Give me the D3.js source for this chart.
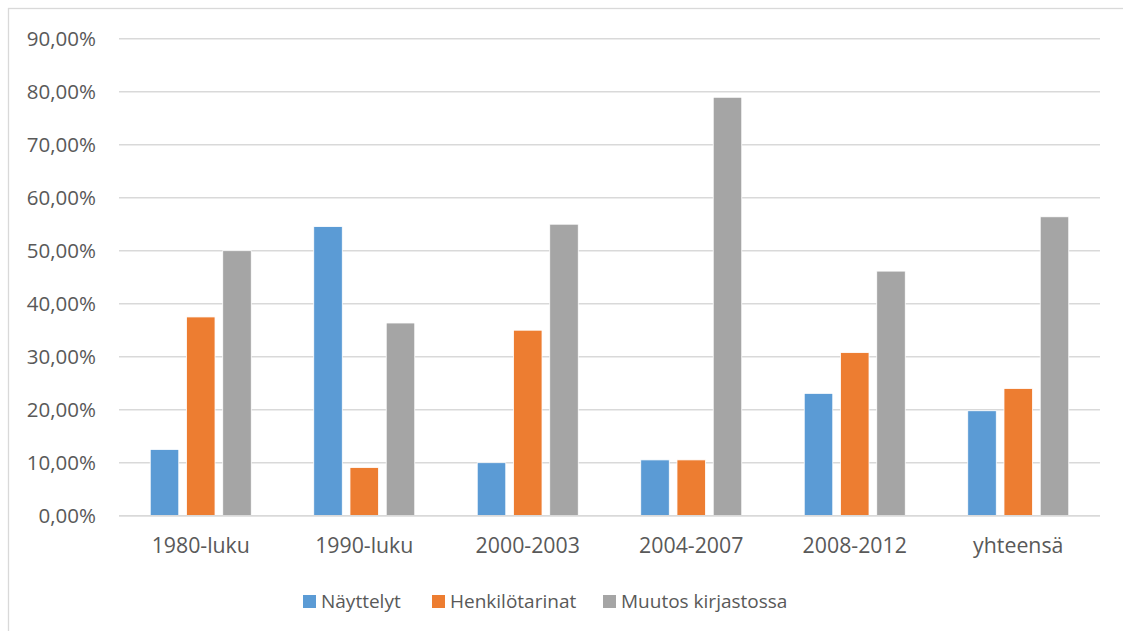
<!DOCTYPE html>
<html>
<head>
<meta charset="utf-8">
<script src="https://cdn.jsdelivr.net/npm/d3@7"></script>
<style>
  html, body { margin: 0; padding: 0; background: #fff; }
  svg { display: block; }
</style>
</head>
<body>
<svg id="chart" width="1123" height="631"></svg>
<script>
const categories = ["1980-luku", "1990-luku", "2000-2003", "2004-2007", "2008-2012", "yhteensä"];
const seriesNames = ["Näyttelyt", "Henkilötarinat", "Muutos kirjastossa"];
const nayttelyt = [12.5, 54.55, 10.0, 10.53, 23.08, 19.8];
const henkilotarinat = [37.5, 9.09, 35.0, 10.53, 30.77, 24.0];
const muutos = [50.0, 36.36, 55.0, 78.95, 46.15, 56.4];
const yTicks = [0, 10, 20, 30, 40, 50, 60, 70, 80, 90];
const colors = ["#5B9BD5", "#ED7D31", "#A5A5A5"];

const seriesValues = [nayttelyt, henkilotarinat, muutos];
const data = categories.map((c, i) => ({
  cat: c,
  vals: seriesNames.map((s, j) => ({ key: s, value: seriesValues[j][i] }))
}));

const svg = d3.select("#chart");
const font = "'Open Sans', 'Liberation Sans', sans-serif";
const textColor = "#595959";

// chart area border
svg.append("rect")
  .attr("x", 8.5).attr("y", 8.5)
  .attr("width", 1300).attr("height", 800)
  .attr("fill", "#fff")
  .attr("stroke", "#d9d9d9")
  .attr("stroke-width", 1.3);

const plotLeft = 119, plotRight = 1100, plotTop = 38.7, plotBottom = 515.7;

const x0 = d3.scaleBand().domain(categories).range([plotLeft, plotRight]);
const x1 = d3.scaleBand().domain(seriesNames)
  .range([0, x0.bandwidth()])
  .paddingInner(0.2126)
  .paddingOuter(0.862);
const y = d3.scaleLinear().domain([0, 90]).range([plotBottom, plotTop]);

// gridlines
svg.append("g")
  .selectAll("line")
  .data(yTicks)
  .join("line")
  .attr("x1", plotLeft).attr("x2", plotRight)
  .attr("y1", d => y(d)).attr("y2", d => y(d))
  .attr("stroke", "#d9d9d9")
  .attr("stroke-width", 1.4);

// y axis labels
const yAxis = svg.append("g")
  .attr("transform", `translate(${plotLeft},0)`)
  .call(d3.axisLeft(y).tickValues(yTicks).tickSize(0).tickPadding(23)
    .tickFormat(d => d.toFixed(2).replace(".", ",") + "%"));
yAxis.select(".domain").remove();
yAxis.selectAll("text")
  .attr("font-family", font)
  .attr("font-size", 20.5)
  .attr("fill", textColor);

// bars
const groups = svg.append("g")
  .selectAll("g")
  .data(data)
  .join("g")
  .attr("transform", d => `translate(${x0(d.cat)},0)`);

groups.selectAll("rect")
  .data(d => d.vals)
  .join("rect")
  .attr("x", d => x1(d.key))
  .attr("width", x1.bandwidth())
  .attr("y", d => y(d.value))
  .attr("height", d => y(0) - y(d.value))
  .attr("fill", (d, i) => colors[i])
  .attr("stroke", "#fff")
  .attr("stroke-width", 0.8);

// baseline
svg.append("line")
  .attr("x1", plotLeft).attr("x2", plotRight)
  .attr("y1", y(0)).attr("y2", y(0))
  .attr("stroke", "#d9d9d9")
  .attr("stroke-width", 1.4);

// x axis labels
const xAxis = svg.append("g")
  .attr("transform", `translate(0,${plotBottom})`)
  .call(d3.axisBottom(x0).tickSize(0).tickPadding(22));
xAxis.select(".domain").remove();
xAxis.selectAll("text")
  .attr("font-family", font)
  .attr("font-size", 21.3)
  .attr("fill", textColor);

// legend
const legendX = [303, 432, 603];
const legend = svg.append("g")
  .selectAll("g")
  .data(seriesNames)
  .join("g")
  .attr("transform", (d, i) => `translate(${legendX[i]},595)`);
legend.append("rect")
  .attr("width", 13).attr("height", 13)
  .attr("fill", (d, i) => colors[i]);
legend.append("text")
  .attr("x", 18).attr("y", 6.5)
  .attr("dy", "0.35em")
  .attr("font-family", font)
  .attr("font-size", 19)
  .attr("fill", textColor)
  .text(d => d);
</script>
</body>
</html>
